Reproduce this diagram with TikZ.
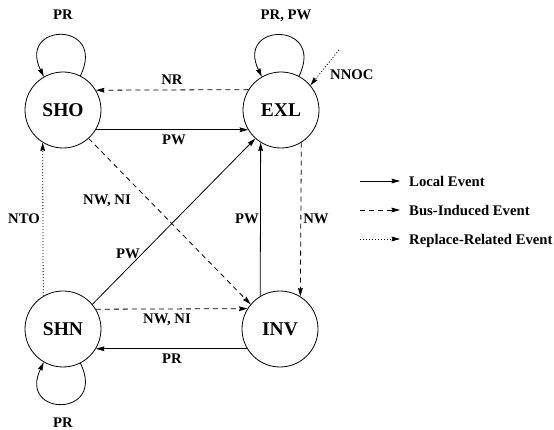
\documentclass[tikz,border=0pt]{standalone}
\usepackage{fontspec}
\setmainfont{Liberation Serif}
\usetikzlibrary{arrows.meta}
\begin{document}
\begin{tikzpicture}[x=1pt,y=1pt,
  state/.style={circle,draw,line width=0.8pt,minimum size=76pt,inner sep=0pt,
    font=\fontsize{19.5}{19.5}\selectfont\bfseries},
  lbl/.style={font=\fontsize{14.7}{14.7}\selectfont\bfseries,inner sep=0pt,text depth=0pt},
  tip/.style={-{Stealth[length=8.5pt,width=4.8pt,inset=1pt]}},
  local/.style={line width=0.8pt,tip},
  bus/.style={local,dash pattern=on 5pt off 4pt},
  repl/.style={local,dash pattern=on 1pt off 2pt},
]
\useasboundingbox (0,0) rectangle (554,430);

% states
\node[state] (sho) at (63,320) {SHO};
\node[state] (exl) at (281,320) {EXL};
\node[state] (shn) at (63,101) {SHN};
\node[state] (inv) at (280,101) {INV};

% self loops
\draw[local] (sho.63) .. controls +(64:61) and +(116:61) .. (sho.120);
\draw[local] (exl.62) .. controls +(64:61) and +(116:61) .. (exl.120);
\draw[local] (shn.-63) .. controls +(-64:61) and +(-116:61) .. (shn.-120);
\node[lbl] (lsho) at (63,415) {PR};
\node[lbl] (lexl) at (286,415) {PR, PW};
\node[lbl] (lshn) at (63,7) {PR};

% top pair
\draw[bus] (exl.148.2) -- (sho.31.8);
\draw[local] (sho.-31.8) -- (exl.211.8);
\node[lbl] (lnr) at (172,350) {NR};
\node[lbl] (lpw1) at (174,290) {PW};

% bottom pair
\draw[bus] (shn.31.8) -- (inv.148.2);
\draw[local] (inv.211.8) -- (shn.-31.8);
\node[lbl] (lnwni2) at (167,111) {NW, NI};
\node[lbl] (lpr2) at (172,71) {PR};

% right pair
\draw[local] (inv.121.8) -- (exl.238.2);
\draw[bus] (exl.-58.2) -- (inv.58.2);
\node[lbl] (lpw3) at (247,211) {PW};
\node[lbl] (lnw) at (316,211) {NW};

% left edge
\draw[repl] (shn.121.8) -- (sho.238.2);
\node[lbl] (lnto) at (24,211) {NTO};

% diagonals
\draw[local] (shn.40) -- (exl.228);
\draw[bus] (sho.-48) -- (inv.140);
\node[lbl] (lnwni1) at (107,230) {NW, NI};
\node[lbl] (lpw2) at (128,176) {PW};

% external entry into EXL
\coordinate (nnoc) at (339,380);
\draw[repl] (nnoc) -- (exl.40);
\node[lbl,anchor=west] (lnnoc) at (330,355) {NNOC};

% legend
\coordinate (k1a) at (360,249); \coordinate (k1b) at (400,249);
\coordinate (k2a) at (360,220); \coordinate (k2b) at (400,220);
\coordinate (k3a) at (360,191); \coordinate (k3b) at (400,191);
\draw[local] (k1a) -- (k1b);
\draw[bus] (k2a) -- (k2b);
\draw[repl] (k3a) -- (k3b);
\node[lbl,anchor=west] (t1) at (409,249) {Local Event};
\node[lbl,anchor=west] (t2) at (409,220) {Bus-Induced Event};
\node[lbl,anchor=west] (t3) at (409,191) {Replace-Related Event};
\end{tikzpicture}
\end{document}
